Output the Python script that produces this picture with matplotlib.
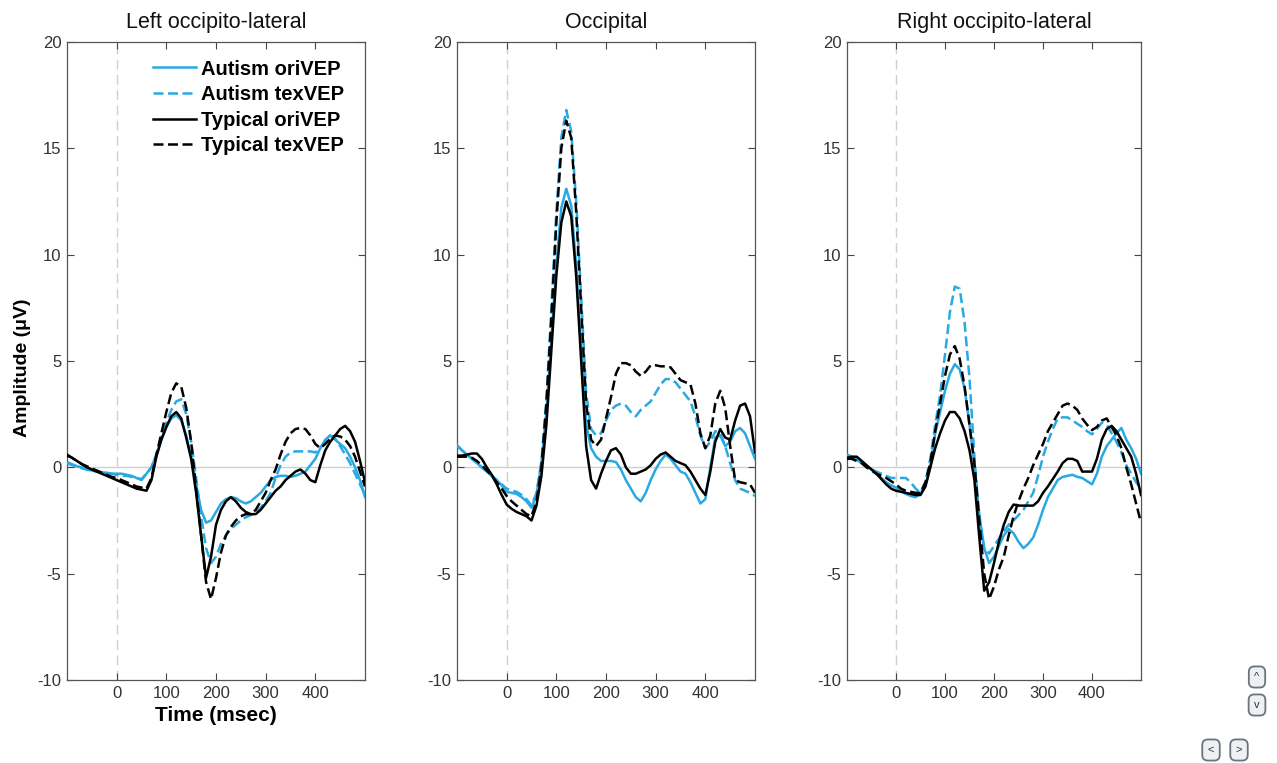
import matplotlib
matplotlib.use("Agg")
import matplotlib.pyplot as plt
import numpy as np

plt.rcParams['font.family'] = ['Liberation Sans', 'DejaVu Sans']
plt.rcParams['axes.unicode_minus'] = False

time_ms = list(range(-100, 501, 10))

panel_titles = ["Left occipito-lateral", "Occipital", "Right occipito-lateral"]
series_labels = ["Autism oriVEP", "Autism texVEP", "Typical oriVEP", "Typical texVEP"]

# ---- Left occipito-lateral ----
left_autism_ori = [0.2, 0.1, 0.05, 0.0, -0.1, -0.15, -0.2, -0.25, -0.25, -0.3,
                   -0.3, -0.3, -0.35, -0.4, -0.5, -0.6, -0.3, 0.0, 0.6, 1.3,
                   1.9, 2.3, 2.45, 2.2, 1.5, 0.5, -0.8, -2.0, -2.6, -2.5,
                   -2.1, -1.7, -1.5, -1.4, -1.45, -1.6, -1.7, -1.6, -1.4, -1.2,
                   -0.9, -0.6, -0.45, -0.4, -0.4, -0.45, -0.4, -0.3, -0.2, 0.1,
                   0.4, 0.9, 1.3, 1.5, 1.3, 1.1, 0.9, 0.5, 0.0, -0.6, -1.4]
left_autism_tex = [0.25, 0.15, 0.05, -0.05, -0.1, -0.15, -0.2, -0.25, -0.3, -0.3,
                   -0.35, -0.4, -0.4, -0.45, -0.5, -0.55, -0.3, 0.0, 0.6, 1.4,
                   2.1, 2.7, 3.1, 3.2, 2.5, 1.2, -0.5, -2.3, -3.8, -4.5,
                   -4.2, -3.6, -3.2, -2.9, -2.7, -2.5, -2.35, -2.25, -2.15, -1.9,
                   -1.6, -1.2, -0.5, 0.1, 0.5, 0.7, 0.75, 0.75, 0.75, 0.75,
                   0.7, 0.9, 1.25, 1.5, 1.35, 1.0, 0.6, 0.2, -0.3, -0.8, -1.3]
left_typical_ori = [0.6, 0.45, 0.3, 0.15, 0.0, -0.1, -0.2, -0.3, -0.4, -0.5,
                    -0.6, -0.7, -0.8, -0.9, -1.0, -1.05, -1.1, -0.6, 0.5, 1.3,
                    1.9, 2.4, 2.6, 2.3, 1.4, 0.4, -1.2, -3.2, -5.2, -4.2,
                    -2.7, -2.0, -1.6, -1.4, -1.6, -1.9, -2.1, -2.2, -2.2, -2.0,
                    -1.7, -1.4, -1.1, -0.9, -0.6, -0.4, -0.2, -0.1, -0.3, -0.6,
                    -0.7, 0.1, 0.8, 1.2, 1.5, 1.8, 1.95, 1.7, 1.2, 0.3, -0.7]
left_typical_tex = [0.55, 0.45, 0.3, 0.15, 0.05, -0.05, -0.15, -0.25, -0.35, -0.45,
                    -0.5, -0.6, -0.7, -0.8, -0.9, -0.95, -1.0, -0.5, 0.6, 1.6,
                    2.6, 3.5, 3.95, 3.8, 2.8, 1.2, -1.0, -3.2, -5.4, -6.2,
                    -5.2, -4.0, -3.2, -2.8, -2.5, -2.3, -2.2, -2.2, -2.0, -1.6,
                    -1.2, -0.6, -0.1, 0.6, 1.2, 1.6, 1.8, 1.85, 1.8, 1.5,
                    1.1, 0.9, 1.1, 1.35, 1.5, 1.45, 1.3, 1.0, 0.5, -0.2, -0.9]

# ---- Occipital ----
occ_autism_ori = [1.05, 0.8, 0.6, 0.4, 0.2, 0.0, -0.2, -0.4, -0.6, -0.85,
                  -1.15, -1.2, -1.25, -1.4, -1.6, -1.9, -1.3, 0.2, 2.6, 6.0,
                  9.5, 12.2, 13.1, 12.3, 9.5, 5.5, 2.0, 0.9, 0.5, 0.3,
                  0.3, 0.3, 0.25, -0.1, -0.6, -1.0, -1.4, -1.6, -1.2, -0.6,
                  -0.1, 0.3, 0.6, 0.4, 0.1, -0.2, -0.3, -0.7, -1.2, -1.7,
                  -1.5, 0.0, 1.4, 1.5, 1.0, 1.2, 1.7, 1.85, 1.6, 1.0, 0.4]
occ_autism_tex = [1.0, 0.8, 0.6, 0.4, 0.2, 0.0, -0.2, -0.4, -0.6, -0.8,
                  -1.0, -1.1, -1.15, -1.3, -1.5, -1.8, -1.2, 0.3, 3.2, 7.5,
                  12.0, 15.5, 16.8, 15.8, 12.5, 8.0, 3.5, 1.8, 1.5, 1.6,
                  2.2, 2.7, 2.9, 3.0, 2.9, 2.6, 2.4, 2.7, 2.9, 3.1,
                  3.5, 3.9, 4.15, 4.15, 4.0, 3.7, 3.4, 3.1, 2.4, 1.5,
                  0.9, 1.2, 1.7, 1.6, 1.0, 0.2, -0.6, -1.0, -1.1, -1.2, -1.35]
occ_typical_ori = [0.55, 0.55, 0.6, 0.65, 0.65, 0.4, 0.0, -0.35, -0.8, -1.3,
                   -1.75, -1.95, -2.1, -2.2, -2.3, -2.5, -1.8, -0.4, 2.0, 5.5,
                   9.0, 11.5, 12.5, 11.8, 9.0, 5.0, 1.0, -0.6, -1.0, -0.3,
                   0.3, 0.8, 0.9, 0.6, 0.0, -0.3, -0.3, -0.2, -0.1, 0.1,
                   0.4, 0.6, 0.7, 0.5, 0.3, 0.2, 0.1, -0.2, -0.6, -1.0,
                   -1.3, -0.2, 1.2, 1.8, 1.4, 1.3, 2.2, 2.9, 3.0, 2.4, 0.7]
occ_typical_tex = [0.5, 0.5, 0.5, 0.45, 0.3, 0.1, -0.15, -0.4, -0.7, -1.0,
                   -1.35, -1.6, -1.8, -2.0, -2.2, -2.3, -1.6, 0.0, 3.0, 7.0,
                   11.5, 15.0, 16.3, 15.5, 12.0, 7.5, 3.0, 1.3, 1.0, 1.3,
                   2.3, 3.3, 4.4, 4.9, 4.9, 4.8, 4.5, 4.3, 4.5, 4.8,
                   4.8, 4.75, 4.75, 4.7, 4.4, 4.1, 4.0, 3.9, 3.0, 1.6,
                   0.9, 1.5, 3.0, 3.6, 2.8, 1.0, -0.6, -0.7, -0.75, -0.8, -1.2]

# ---- Right occipito-lateral ----
right_autism_ori = [0.6, 0.5, 0.35, 0.2, 0.05, -0.1, -0.3, -0.5, -0.7, -0.85,
                    -0.95, -1.1, -1.25, -1.35, -1.4, -1.25, -0.9, 0.0, 1.6, 2.6,
                    3.6, 4.4, 4.85, 4.6, 3.7, 2.0, 0.1, -2.2, -3.8, -4.5,
                    -4.2, -3.7, -3.2, -2.9, -3.1, -3.5, -3.8, -3.6, -3.3, -2.7,
                    -2.0, -1.4, -1.0, -0.6, -0.45, -0.4, -0.35, -0.45, -0.5, -0.65,
                    -0.8, -0.3, 0.5, 1.0, 1.3, 1.6, 1.85, 1.3, 0.9, 0.4, -0.3]
right_autism_tex = [0.5, 0.4, 0.3, 0.2, 0.0, -0.1, -0.2, -0.3, -0.4, -0.5,
                    -0.5, -0.5, -0.5, -0.7, -1.0, -1.2, -0.7, 0.4, 2.0, 3.4,
                    5.3, 7.3, 8.5, 8.4, 6.8, 4.2, 0.5, -2.5, -3.8, -4.05,
                    -3.7, -3.35, -3.0, -2.7, -2.5, -2.25, -2.0, -1.6, -1.2, -0.4,
                    0.5, 1.2, 1.8, 2.3, 2.35, 2.35, 2.2, 2.05, 1.9, 1.7,
                    1.55, 1.8, 2.1, 2.0, 1.6, 1.2, 0.7, 0.1, -0.3, -0.7, -1.0]
right_typical_ori = [0.45, 0.5, 0.5, 0.3, 0.1, -0.1, -0.3, -0.55, -0.8, -1.0,
                     -1.1, -1.15, -1.2, -1.25, -1.3, -1.3, -0.9, 0.0, 0.9, 1.6,
                     2.2, 2.6, 2.6, 2.3, 1.7, 0.8, -0.6, -3.3, -5.8, -5.4,
                     -4.5, -3.5, -2.7, -2.1, -1.75, -1.8, -1.8, -1.8, -1.8, -1.6,
                     -1.2, -0.9, -0.55, -0.2, 0.2, 0.4, 0.4, 0.3, -0.2, -0.2,
                     -0.2, 0.4, 1.3, 1.8, 1.95, 1.7, 1.3, 0.9, 0.5, -0.3, -1.3]
right_typical_tex = [0.4, 0.4, 0.3, 0.2, 0.0, -0.15, -0.3, -0.4, -0.5, -0.65,
                     -0.8, -1.0, -1.1, -1.15, -1.2, -1.2, -0.7, 0.2, 1.7, 3.0,
                     4.3, 5.3, 5.7, 5.1, 3.8, 2.0, 0.2, -2.5, -5.0, -6.2,
                     -5.6, -4.8, -4.2, -3.2, -2.3, -1.6, -1.0, -0.5, 0.1, 0.6,
                     1.1, 1.7, 2.1, 2.5, 2.9, 3.0, 2.9, 2.7, 2.3, 2.0,
                     1.75, 1.9, 2.2, 2.3, 1.9, 1.5, 0.9, 0.0, -0.8, -1.7, -2.6]

panels = [
    [left_autism_ori, left_autism_tex, left_typical_ori, left_typical_tex],
    [occ_autism_ori, occ_autism_tex, occ_typical_ori, occ_typical_tex],
    [right_autism_ori, right_autism_tex, right_typical_ori, right_typical_tex],
]

blue = '#29a9e1'
dash = (0, (4, 1.8))
styles = [dict(color=blue, ls='-'), dict(color=blue, ls=dash),
          dict(color='black', ls='-'), dict(color='black', ls=dash)]

W, H = 1277, 763
fig = plt.figure(figsize=(W / 100, H / 100), dpi=100)

ax_px = [(67, 365), (457, 755), (847, 1141)]
top_px, bot_px = 42, 680

xticks = [0, 100, 200, 300, 400]
yticks = [-10, -5, 0, 5, 10, 15, 20]

for i, (x0, x1) in enumerate(ax_px):
    ax = fig.add_axes([x0 / W, (H - bot_px) / H, (x1 - x0) / W, (bot_px - top_px) / H])
    ax.axhline(0, color='#cfcfcf', lw=1.0, zorder=1)
    ax.axvline(0, color='#cfcfcf', lw=1.0, ls=(0, (7, 4)), zorder=1)
    for data, lab, st in zip(panels[i], series_labels, styles):
        ax.plot(time_ms, data, lw=1.8, label=lab, zorder=3, **st)
    ax.set_xlim(-100, 500)
    ax.set_ylim(-10, 20)
    ax.set_xticks(xticks)
    ax.set_yticks(yticks)
    ax.tick_params(direction='in', top=True, right=True, length=5, width=0.8,
                   labelsize=12, colors='#444444', labelcolor='#333333', pad=4)
    for s in ax.spines.values():
        s.set_color('#555555')
        s.set_linewidth(0.9)
    ax.set_title(panel_titles[i], fontsize=15.5, pad=10, color='#111111')
    if i == 0:
        ax.set_xlabel('Time (msec)', fontsize=15, fontweight='bold', labelpad=4)
        ax.set_ylabel('Amplitude (μV)', fontsize=14, fontweight='bold')
        ax.yaxis.set_label_coords(-0.12, 0.49)
        ax.legend(loc='upper right', frameon=False,
                  prop={'weight': 'bold', 'size': 14.5},
                  handlelength=2.15, handletextpad=0.25, labelspacing=0.33,
                  borderaxespad=0.0, borderpad=0.3,
                  bbox_to_anchor=(0.95, 0.982))

# navigation buttons
btn = dict(boxstyle='round,pad=0.5', fc='#eef0f3', ec='#6a7480', lw=1.3)
for x, y, s in [(1257, 677, '^'), (1257, 705, 'v'), (1211, 750, '<'), (1239, 750, '>')]:
    fig.text(x / W, 1 - y / H, s, fontsize=8, ha='center', va='center',
             color='#333333', bbox=btn)

fig.savefig('out.png', dpi=100)
